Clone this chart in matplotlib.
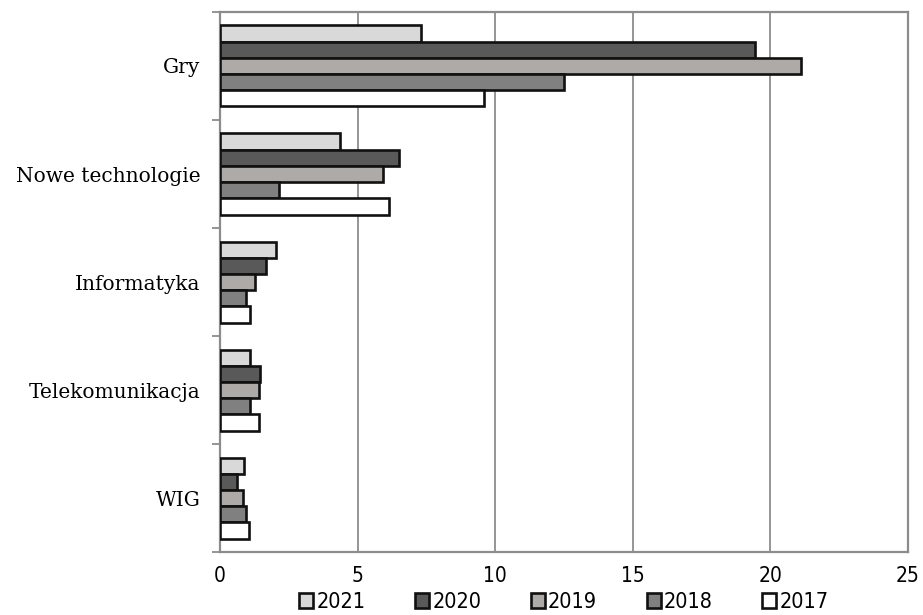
import matplotlib
matplotlib.use('Agg')
import matplotlib.pyplot as plt
import numpy as np
from matplotlib import font_manager

# sektory (od góry) i lata
categories = ['Gry', 'Nowe technologie', 'Informatyka', 'Telekomunikacja', 'WIG']
years = ['2021', '2020', '2019', '2018', '2017']

v2021 = [7.3, 4.36, 2.04, 1.09, 0.88]
v2020 = [19.45, 6.5, 1.66, 1.45, 0.61]
v2019 = [21.1, 5.94, 1.28, 1.42, 0.82]
v2018 = [12.5, 2.13, 0.95, 1.09, 0.96]
v2017 = [9.6, 6.15, 1.09, 1.42, 1.06]

series = [v2021, v2020, v2019, v2018, v2017]
colors = ['#d9d9d9', '#595959', '#aeaaa8', '#808080', '#ffffff']

# wąska czcionka do cyfr, jeśli jest
narrow = None
for f in font_manager.fontManager.ttflist:
    fn = f.fname.lower()
    if ('condensed' in fn or 'narrow' in fn) and 'bold' not in fn and 'oblique' not in fn \
            and 'italic' not in fn:
        narrow = font_manager.FontProperties(fname=f.fname)
        break
if narrow is None:
    narrow = font_manager.FontProperties(family='DejaVu Sans')

fig = plt.figure(figsize=(9.23, 6.15), dpi=100)
ax = fig.add_axes([0.2383, 0.1024, 0.7454, 0.8781])

n = len(categories)
centers = np.arange(n)[::-1].astype(float)  # Gry na górze
h = 0.15
handles = []
for i, (vals, c) in enumerate(zip(series, colors)):
    y = centers + (2 - i) * h
    b = ax.barh(y, vals, height=h, color=c, edgecolor='#111111', linewidth=1.9,
                label=years[i], zorder=3)
    handles.append(b)

ax.set_xlim(0, 25)
ax.set_ylim(-0.5, n - 0.5)
ax.set_xticks([0, 5, 10, 15, 20, 25])
ax.xaxis.grid(True, color='#8c8c8c', linewidth=1.3, zorder=0)
ax.tick_params(axis='x', length=0, pad=10)
for t in ax.get_xticklabels():
    t.set_fontproperties(narrow)
    t.set_fontsize(15)

# etykiety w środkach pasm, kreski na granicach
ax.set_yticks(centers)
ax.set_yticklabels(categories, fontfamily='DejaVu Serif', fontsize=14.5)
ax.set_yticks(np.arange(n + 1) - 0.5, minor=True)
ax.tick_params(axis='y', which='major', length=0, pad=14)
ax.tick_params(axis='y', which='minor', length=6, width=1.3, color='#8c8c8c')

for s in ax.spines.values():
    s.set_color('#8c8c8c')
    s.set_linewidth(1.6)

lp = narrow.copy()
lp.set_size(15.5)
leg = ax.legend(handles=handles, loc='upper center', bbox_to_anchor=(0.5, -0.058),
                ncol=5, frameon=False, prop=lp,
                handlelength=0.65, handleheight=0.65, handletextpad=0.15,
                columnspacing=2.3, borderaxespad=0)

fig.savefig('out.png', dpi=100)
